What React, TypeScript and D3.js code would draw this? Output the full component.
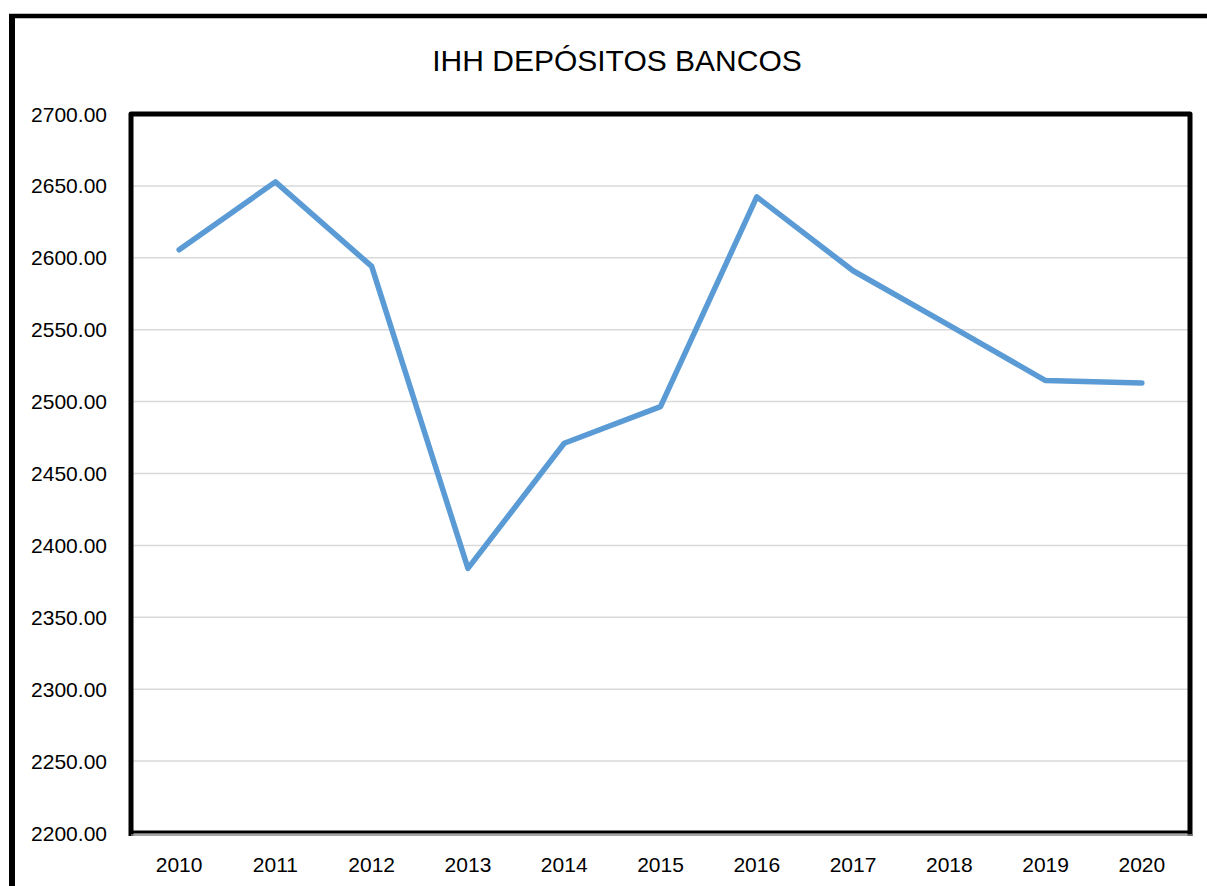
import React from "react";
import * as d3 from "d3";

const years = ["2010", "2011", "2012", "2013", "2014", "2015", "2016", "2017", "2018", "2019", "2020"];
const ihhValues = [2605.6, 2652.8, 2594.0, 2384.0, 2471.0, 2496.5, 2642.4, 2591.0, 2553.0, 2514.6, 2513.0];
const yTicks = [2200, 2250, 2300, 2350, 2400, 2450, 2500, 2550, 2600, 2650, 2700];
const title = "IHH DEPÓSITOS BANCOS";

const W = 1207;
const H = 886;
const plot = { left: 131, right: 1190, top: 114, bottom: 833 };
const font = "'Liberation Sans', Arial, sans-serif";

export default function App() {
  const x = d3.scaleBand<string>().domain(years).range([plot.left, plot.right]).padding(0);
  const y = d3.scaleLinear().domain([2200, 2700]).range([plot.bottom, plot.top]);
  const line = d3
    .line<number>()
    .x((_, i) => (x(years[i]) as number) + x.bandwidth() / 2)
    .y((d) => y(d));

  return (
    <svg
      width={W}
      height={H}
      style={{ position: "absolute", left: 0, top: 0, display: "block", background: "#fff" }}
    >
      {/* outer frame (left and top) */}
      <line x1={12} y1={14} x2={12} y2={H} stroke="#000" strokeWidth={6} />
      <line x1={9} y1={16} x2={W} y2={16} stroke="#000" strokeWidth={4.5} />

      <text x={617} y={71} textAnchor="middle" fontFamily={font} fontSize={30} fill="#000">
        {title}
      </text>

      {/* gridlines */}
      {yTicks.map((t) => (
        <line key={t} x1={plot.left} x2={plot.right} y1={y(t)} y2={y(t)} stroke="#d9d9d9" strokeWidth={1.5} />
      ))}

      {/* y labels */}
      {yTicks.map((t) => (
        <text
          key={"l" + t}
          x={107}
          y={y(t)}
          dy="0.36em"
          textAnchor="end"
          fontFamily={font}
          fontSize={21}
          fill="#000"
        >
          {t.toFixed(2)}
        </text>
      ))}

      {/* x labels */}
      {years.map((yr) => (
        <text
          key={yr}
          x={(x(yr) as number) + x.bandwidth() / 2}
          y={872}
          textAnchor="middle"
          fontFamily={font}
          fontSize={21}
          fill="#000"
        >
          {yr}
        </text>
      ))}

      {/* plot frame */}
      <path
        d={`M${plot.left},${plot.bottom + 3} L${plot.left},${plot.top} L${plot.right},${plot.top} L${plot.right},${plot.bottom + 3}`}
        fill="none"
        stroke="#000"
        strokeWidth={5}
        strokeLinejoin="round"
      />
      <line x1={plot.left} x2={plot.right + 2} y1={plot.bottom - 1} y2={plot.bottom - 1} stroke="#000" strokeWidth={3} />
      <line x1={plot.left} x2={plot.right + 2} y1={plot.bottom + 2} y2={plot.bottom + 2} stroke="#888" strokeWidth={1.5} />

      {/* series */}
      <path
        d={line(ihhValues) || ""}
        fill="none"
        stroke="#5B9BD5"
        strokeWidth={5.5}
        strokeLinejoin="round"
        strokeLinecap="round"
      />
    </svg>
  );
}
